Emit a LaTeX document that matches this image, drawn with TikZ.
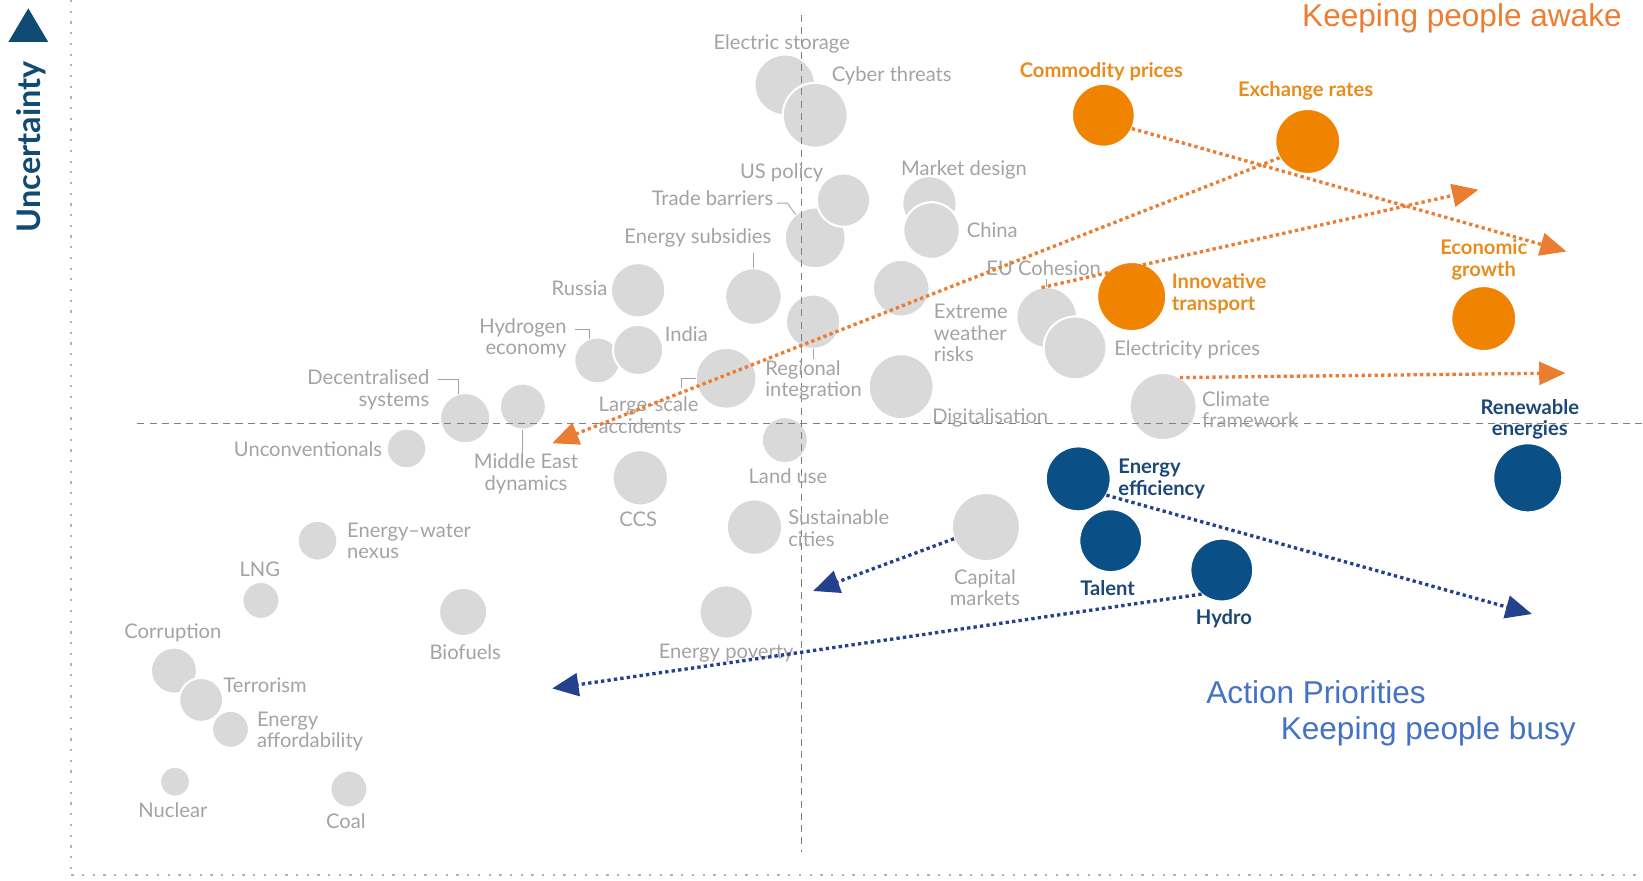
\documentclass[tikz,border=0pt]{standalone}
\usepackage{fontspec}
\setmainfont{Lato}
\newfontfamily\arialfont{Liberation Sans}
\usepackage{tikz}
\usetikzlibrary{positioning, arrows.meta}
\newcommand{\pxu}{0.021cm}

\definecolor{bubgray}{RGB}{217,217,217}
\definecolor{lblgray}{RGB}{163,163,163}
\definecolor{bubor}{RGB}{240,131,0}
\definecolor{lblor}{RGB}{232,140,30}
\definecolor{bubblue}{RGB}{10,79,133}
\definecolor{lblblue}{RGB}{28,72,120}
\definecolor{arror}{RGB}{235,125,50}
\definecolor{arrblue}{RGB}{35,65,140}
\definecolor{axisblue}{RGB}{15,75,115}
\definecolor{offorange}{RGB}{237,125,49}
\definecolor{offblue}{RGB}{68,114,196}

\tikzset{
	bub/.style={circle, inner sep=0pt, outer sep=0pt, draw=white, line width=1.2pt},
	gbub/.style={bub, fill=bubgray},
	obub/.style={bub, fill=bubor},
	bbub/.style={bub, fill=bubblue},
	lbl/.style={inner sep=0pt, text=lblgray, font=\fontsize{11.5}{12.3}\selectfont},
	olbl/.style={lbl, text=lblor, font=\fontsize{11.5}{12.3}\selectfont\bfseries},
	blbl/.style={lbl, text=lblblue, font=\fontsize{11.5}{12.3}\selectfont\bfseries},
	leader/.style={draw=lblgray, line width=0.5pt},
	trend/.style={line width=1.9pt, dash pattern=on 1.9pt off 1.8pt, -{Triangle[length=15pt,width=13pt]}},
	midline/.style={black!50, line width=0.6pt, dash pattern=on 4pt off 3pt},
	axisdots/.style={black!30, line width=1.3pt, dash pattern=on 1.3pt off 4.8pt},
	headline/.style={inner sep=0pt, font=\arialfont\fontsize{18}{21}\selectfont}
}

\begin{document}
\begin{tikzpicture}[x={(\pxu,0)}, y={(0,-\pxu)}]
	\useasboundingbox (0,0) rectangle (1568,840);
	
	% Draw axes
	\draw[axisdots] (68,0) -- (68,835);
	\draw[axisdots] (68,835) -- (1568,835);
	\fill[axisblue] (8,40) -- (46,40) -- (27,8) -- cycle;
	\node[rotate=90, inner sep=0pt, text=axisblue, font=\fontsize{18.5}{20}\selectfont\bfseries] (unc) at (30,140) {Uncertainty};
	
	% Grey issues
	\foreach \nm/\x/\y/\r in {elst/749/81/29, cyber/778/110/31, trade/778/227/29, uspol/805/191/25.5,
		subs/719/283/27, mkt/887/194/26, china/889/220/27, russia/609/277/26, hydr/570/344/22,
		india/609/334/24, large/693/361/29, regi/776/307/26, extr/860/275/27, digi/860/369/31,
		land/749/420/22, eucoh/999/303/29, elec/1026/332/30, clim/1110/388/32, capm/941/503/32.5,
		sust/720/503/26.5, ccs/611/456/26.5, pov/693/584/25.5, mide/499/388/22, decen/444/399/24,
		unconv/388/428/19, water/303/516/19, lng/249/573/17.7, bio/442/584/23, corr/166/640/22,
		terr/192/668/21, afford/220/696/17.7, nucl/167/746/14.3, coal/333/753/17.7}
	\node[gbub, minimum size={2*\r*\pxu}] (\nm) at (\x,\y) {};
	
	% Orange and blue issues
	\foreach \nm/\x/\y/\r in {comm/1053/110/30, exch/1248/135/31, innov/1080/283/33, econ/1416/304/31}
	\node[obub, minimum size={2*\r*\pxu}] (\nm) at (\x,\y) {};
	\foreach \nm/\x/\y/\r in {eneff/1029/457/31, talent/1060/516/30, hydro/1166/544/30, renew/1458/456/33}
	\node[bbub, minimum size={2*\r*\pxu}] (\nm) at (\x,\y) {};
	
	% Quadrant lines
	\draw[midline] (131,404) -- (1568,404);
	\draw[midline] (765,14) -- (765,813);
	
	% Labels
	\foreach \nm/\x/\y/\txt in {elst/746/42/Electric storage, cyber/851/72/Cyber threats,
		uspol/746/165/US policy, trade/680/189/Trade barriers, subs/666/227/Energy subsidies,
		mkt/920/162/Market design, china/947/220/China, russia/553/275/Russia, india/655/319/India,
		eucoh/996/256/EU Cohesion, elec/1133/334/Electricity prices, digi/945/399/Digitalisation,
		unconv/294/429/Unconventionals, mide/502/452/{Middle East\\dynamics}, land/752/454/Land use,
		ccs/609/496/CCS, capm/940/561/{Capital\\markets}, pov/693/623/Energy poverty,
		lng/248/543/LNG, corr/165/604/Corruption, terr/253/654/Terrorism, nucl/165/773/Nuclear,
		coal/330/784/Coal, bio/444/622/Biofuels}
	\node[lbl, align=center] (\nm-txt) at (\x,\y) {\txt};
	\foreach \nm/\x/\y/\txt in {extr/891/318/{Extreme\\weather\\risks}, clim/1147/391/{Climate\\framework},
		regi/730/363/{Regional\\integration}, large/571/396/{Large-scale\\accidents},
		sust/752/504/{Sustainable\\cities}, water/331/516/{Energy–water\\nexus},
		afford/245/698/{Energy\\affordability}}
	\node[lbl, align=left, anchor=west] (\nm-txt) at (\x,\y) {\txt};
	\foreach \nm/\x/\y/\txt in {hydr/541/323/{Hydrogen\\economy}, decen/410/372/{Decentralised\\systems}}
	\node[lbl, align=right, anchor=east] (\nm-txt) at (\x,\y) {\txt};
	
	\node[olbl] (comm-txt) at (1051,68) {Commodity prices};
	\node[olbl] (exch-txt) at (1246,87) {Exchange rates};
	\node[olbl, align=center] (econ-txt) at (1416,248) {Economic\\growth};
	\node[olbl, align=left, anchor=west] (innov-txt) at (1118,280) {Innovative\\transport};
	\node[blbl, align=left, anchor=west] (eneff-txt) at (1067,457) {Energy\\efficiency};
	\node[blbl] (talent-txt) at (1057,561) {Talent};
	\node[blbl] (hydro-txt) at (1168,590) {Hydro};
	\node[blbl, align=center] (renew-txt) at (1460,400) {Renewable\\energies};
	
	% Leader lines
	\draw[leader] (trade.130) -- ++(-8,-11) -- ++(-10,0);
	\draw[leader] (subs.north) -- ++(0,-15);
	\draw[leader] (hydr.110) -- ++(0,-9) -- ++(-14,0);
	\draw[leader] (decen.105) -- ++(0,-14) -- ++(-20,0);
	\draw[leader] (mide.south) -- (mide.south |- mide-txt.north);
	\draw[leader] (large.west) -- ++(-14,0) -- ++(0,9);
	\draw[leader] (regi.south) -- ++(0,10);
	\draw[leader] (eucoh.north) -- ++(0,-8);
	
	% Trend arrows
	\coordinate (endA) at (527,423);
	\coordinate (endB) at (1495,240);
	\coordinate (endC) at (1411,181);
	\coordinate (endD) at (1494,356);
	\coordinate (endE) at (1462,586);
	\coordinate (endF) at (776,564);
	\coordinate (endG) at (527,657);
	\draw[trend, arror] (exch.210) -- (endA);
	\draw[trend, arror] (comm.-25) -- (endB);
	\draw[trend, arror] (eucoh.100) -- (endC);
	\draw[trend, arror] (clim.60) -- (endD);
	\draw[trend, arrblue] (eneff.-30) -- (endE);
	\draw[trend, arrblue] (capm.200) -- (endF);
	\draw[trend, arrblue] (hydro.230) -- (endG);
	
	\node[headline, text=offorange, anchor=base east] (awake) at (1548,25.5) {Keeping people awake};
	\node[headline, text=offblue, anchor=base west] (actpri) at (1151,671) {Action Priorities};
	\node[headline, text=offblue, anchor=base west] (busy) at (1222,706) {Keeping people busy};
\end{tikzpicture}
\end{document}
